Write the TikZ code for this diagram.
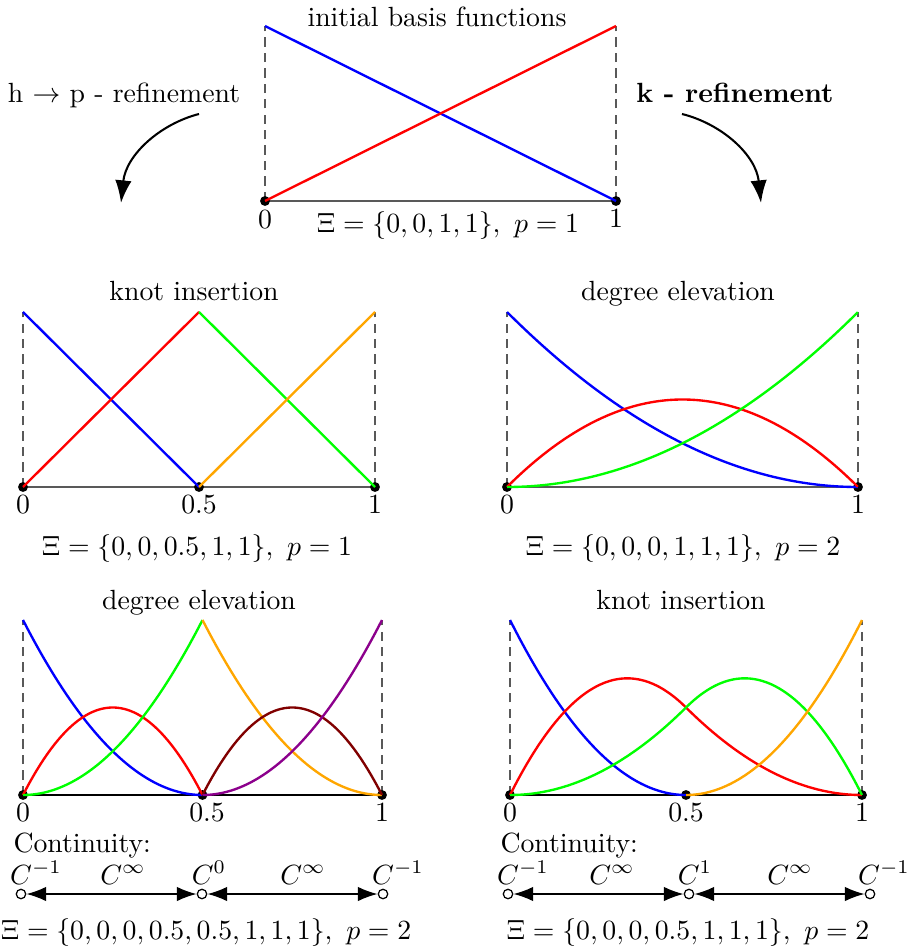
\documentclass[tikz,border=0pt]{standalone}
\usetikzlibrary{arrows.meta}
\definecolor{bgreen}{rgb}{0,1,0}
\definecolor{borange}{rgb}{1,0.65,0}
\definecolor{bpurple}{rgb}{0.55,0,0.55}
\definecolor{bmaroon}{rgb}{0.5,0,0}
\def\u{0.017094cm}
\tikzset{
  every node/.style={scale=1.35, transform shape, inner sep=0pt},
  curve/.style={line width=1.15pt},
  guide/.style={gray!70!black, line width=0.6pt, dash pattern=on 4.5pt off 3pt},
  axisline/.style={black!65, line width=0.7pt},
  knot/.style={fill=black},
  bigarrow/.style={line width=1pt, -{Latex[length=11pt,width=8pt]}},
  contarrow/.style={line width=0.6pt, {Latex[length=9.5pt,width=7pt]}-{Latex[length=9.5pt,width=7pt]}},
  opendot/.style={circle, draw, fill=white, line width=0.6pt, minimum size=7*\u, inner sep=0pt},
}
\begin{document}
\begin{tikzpicture}[x=\u, y=-\u]
\useasboundingbox (0,0) rectangle (912,948);

% ---------- top: initial basis functions ----------
\node[anchor=base] (t0) at (437,27) {initial basis functions};
\begin{scope}[shift={(265,201)}, x={(351*\u,0cm)}, y={(0cm,175*\u)}]
  \draw[guide] (0,0) -- (0,1);
  \draw[guide] (1,0) -- (1,1);
  \draw[axisline] (0,0) -- (1,0);
  \fill[knot] (0,0) circle (2.4pt);
  \fill[knot] (1,0) circle (2.4pt);
  \draw[curve, blue] (0,1) -- (1,0);
  \draw[curve, red] (0,0) -- (1,1);
\end{scope}
\node[anchor=base] (t0a) at (265,229) {$0$};
\node[anchor=base] (t0b) at (616,228) {$1$};
\node[anchor=base] (t0x) at (448,233) {$\Xi=\{0,0,1,1\},\ p=1$};

% ---------- refinement arrows ----------
\node[anchor=base] (hp) at (124,103) {h $\to$ p - refinement};
\node[anchor=base] (kr) at (735,103) {\textbf{k - refinement}};
\coordinate (hps) at (199,114);
\coordinate (hpe) at (121,203);
\coordinate (krs) at (682,114);
\coordinate (kre) at (761,203);
\draw[bigarrow] (hps) .. controls (160,124) and (126,155) .. (hpe);
\draw[bigarrow] (krs) .. controls (722,124) and (756,155) .. (kre);

% ---------- middle left: knot insertion p=1 ----------
\node[anchor=base] (t1) at (194,301) {knot insertion};
\begin{scope}[shift={(23,487)}, x={(352*\u,0cm)}, y={(0cm,175*\u)}]
  \draw[guide] (0,0) -- (0,1);
  \draw[guide] (1,0) -- (1,1);
  \draw[axisline] (0,0) -- (1,0);
  \fill[knot] (0,0) circle (2.4pt);
  \fill[knot] (0.5,0) circle (2.4pt);
  \fill[knot] (1,0) circle (2.4pt);
  \draw[curve, blue] (0,1) -- (0.5,0);
  \draw[curve, red] (0,0) -- (0.5,1);
  \draw[curve, bgreen] (0.5,1) -- (1,0);
  \draw[curve, borange] (0.5,0) -- (1,1);
\end{scope}
\node[anchor=base] (t1a) at (23,513) {$0$};
\node[anchor=base] (t1b) at (199,513) {$0.5$};
\node[anchor=base] (t1c) at (375,513) {$1$};
\node[anchor=base] (t1x) at (197,555) {$\Xi=\{0,0,0.5,1,1\},\ p=1$};

% ---------- middle right: degree elevation p=2 ----------
\node[anchor=base] (t2) at (678,301) {degree elevation};
\begin{scope}[shift={(507,487)}, x={(351*\u,0cm)}, y={(0cm,175*\u)}]
  \draw[guide] (0,0) -- (0,1);
  \draw[guide] (1,0) -- (1,1);
  \draw[axisline] (0,0) -- (1,0);
  \fill[knot] (0,0) circle (2.4pt);
  \fill[knot] (1,0) circle (2.4pt);
  \draw[curve, blue, domain=0:1, samples=60, smooth, variable=\t] plot (\t,{(1-\t)^2});
  \draw[curve, red, domain=0:1, samples=60, smooth, variable=\t] plot (\t,{2*\t*(1-\t)});
  \draw[curve, bgreen, domain=0:1, samples=60, smooth, variable=\t] plot (\t,{\t^2});
\end{scope}
\node[anchor=base] (t2a) at (507,513) {$0$};
\node[anchor=base] (t2b) at (858,513) {$1$};
\node[anchor=base] (t2x) at (683,555) {$\Xi=\{0,0,0,1,1,1\},\ p=2$};

% ---------- bottom left: degree elevation, C0 ----------
\node[anchor=base] (t3) at (199,609) {degree elevation};
\begin{scope}[shift={(23,795)}, x={(359*\u,0cm)}, y={(0cm,175*\u)}]
  \draw[guide] (0,0) -- (0,1);
  \draw[guide] (1,0) -- (1,1);
  \draw[black, line width=0.7pt] (0,0) -- (1,0);
  \fill[knot] (0,0) circle (2.4pt);
  \fill[knot] (0.5,0) circle (2.4pt);
  \fill[knot] (1,0) circle (2.4pt);
  \draw[curve, blue, domain=0:0.5, samples=40, smooth, variable=\t] plot (\t,{(1-2*\t)^2});
  \draw[curve, red, domain=0:0.5, samples=40, smooth, variable=\t] plot (\t,{4*\t*(1-2*\t)});
  \draw[curve, bgreen, domain=0:0.5, samples=40, smooth, variable=\t] plot (\t,{(2*\t)^2});
  \draw[curve, borange, domain=0.5:1, samples=40, smooth, variable=\t] plot (\t,{(2-2*\t)^2});
  \draw[curve, bmaroon, domain=0.5:1, samples=40, smooth, variable=\t] plot (\t,{2*(2*\t-1)*(2-2*\t)});
  \draw[curve, bpurple, domain=0.5:1, samples=40, smooth, variable=\t] plot (\t,{(2*\t-1)^2});
\end{scope}
\node[anchor=base] (t3a) at (23,821) {$0$};
\node[anchor=base] (t3b) at (207,821) {$0.5$};
\node[anchor=base] (t3c) at (382,821) {$1$};
\node[anchor=base west] (t3c0) at (13,852) {Continuity:};
\node[opendot] (l1) at (21,894) {};
\node[opendot] (l2) at (202,894) {};
\node[opendot] (l3) at (383,894) {};
\draw[contarrow] (l1) -- (l2);
\draw[contarrow] (l2) -- (l3);
\node[anchor=base] (lc1) at (36,884) {$C^{-1}$};
\node[anchor=base] (lc2) at (123,884) {$C^{\infty}$};
\node[anchor=base] (lc3) at (209,884) {$C^{0}$};
\node[anchor=base] (lc4) at (303,884) {$C^{\infty}$};
\node[anchor=base] (lc5) at (398,884) {$C^{-1}$};
\node[anchor=base] (t3x) at (206,939) {$\Xi=\{0,0,0,0.5,0.5,1,1,1\},\ p=2$};

% ---------- bottom right: knot insertion, C1 ----------
\node[anchor=base] (t4) at (681,609) {knot insertion};
\begin{scope}[shift={(510,795)}, x={(352*\u,0cm)}, y={(0cm,175*\u)}]
  \draw[guide] (0,0) -- (0,1);
  \draw[guide] (1,0) -- (1,1);
  \draw[black, line width=0.7pt] (0,0) -- (1,0);
  \fill[knot] (0,0) circle (2.4pt);
  \fill[knot] (0.5,0) circle (2.4pt);
  \fill[knot] (1,0) circle (2.4pt);
  \draw[curve, blue, domain=0:0.5, samples=40, smooth, variable=\t] plot (\t,{(1-2*\t)^2});
  \draw[curve, red, smooth, variable=\t] plot[domain=0:0.5, samples=40] (\t,{4*\t-6*\t^2}) -- plot[domain=0.5:1, samples=40] (\t,{2*(1-\t)^2});
  \draw[curve, bgreen, smooth, variable=\t] plot[domain=0:0.5, samples=40] (\t,{2*\t^2}) -- plot[domain=0.5:1, samples=40] (\t,{4*(1-\t)-6*(1-\t)^2});
  \draw[curve, borange, domain=0.5:1, samples=40, smooth, variable=\t] plot (\t,{(2*\t-1)^2});
\end{scope}
\node[anchor=base] (t4a) at (510,821) {$0$};
\node[anchor=base] (t4b) at (686,821) {$0.5$};
\node[anchor=base] (t4c) at (862,821) {$1$};
\node[anchor=base west] (t4c0) at (500,852) {Continuity:};
\node[opendot] (r1) at (508,894) {};
\node[opendot] (r2) at (689,894) {};
\node[opendot] (r3) at (870,894) {};
\draw[contarrow] (r1) -- (r2);
\draw[contarrow] (r2) -- (r3);
\node[anchor=base] (rc1) at (523,884) {$C^{-1}$};
\node[anchor=base] (rc2) at (612,884) {$C^{\infty}$};
\node[anchor=base] (rc3) at (695,884) {$C^{1}$};
\node[anchor=base] (rc4) at (790,884) {$C^{\infty}$};
\node[anchor=base] (rc5) at (884,884) {$C^{-1}$};
\node[anchor=base] (t4x) at (688,939) {$\Xi=\{0,0,0,0.5,1,1,1\},\ p=2$};
\end{tikzpicture}
\end{document}
